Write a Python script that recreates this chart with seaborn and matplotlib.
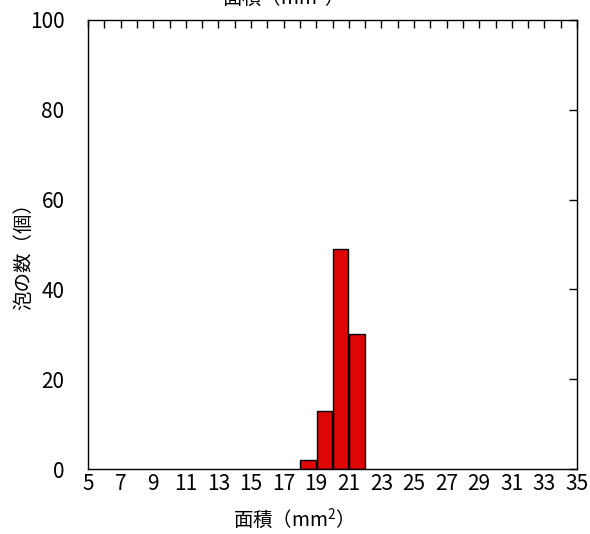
import numpy as np
import pandas as pd
import matplotlib
matplotlib.use("Agg")
import matplotlib.pyplot as plt
import seaborn as sns

# data
bin_left = [18, 19, 20, 21]
counts = [2, 13, 49, 30]
bin_edges = [18, 19, 20, 21, 22]
x_ticks = list(range(5, 36, 2))
y_ticks = [0, 20, 40, 60, 80, 100]
title = "面積（mm$^2$）"
xlabel = "面積（mm$^2$）"
ylabel = "泡の数（個）"

sns.set_style("white")
plt.rcParams['font.family'] = ['Noto Sans CJK JP', 'DejaVu Sans']
plt.rcParams['text.color'] = 'black'
plt.rcParams['axes.labelcolor'] = 'black'
plt.rcParams['mathtext.fontset'] = 'custom'
plt.rcParams['mathtext.rm'] = 'Noto Sans CJK JP'

fig = plt.figure(figsize=(5.9, 5.34), dpi=100)
ax = fig.add_axes([88/590, 1-469/534, (577-88)/590, (469-20)/534])

df = pd.DataFrame({"x": bin_left, "w": counts})
sns.histplot(data=df, x="x", weights="w", bins=bin_edges, ax=ax,
             color="#dd0505", alpha=1, edgecolor="black", linewidth=1.0, shrink=0.93)

ax.set_xlim(5, 35)
ax.set_ylim(0, 100)
ax.set_xticks(x_ticks)
ax.set_xticklabels([str(t) for t in x_ticks])
ax.set_xticks(range(5, 36), minor=True)
ax.set_yticks(y_ticks)
ax.set_yticklabels([str(t) for t in y_ticks])
ax.tick_params(axis='both', which='both', direction='in', length=6, width=1,
               top=True, right=True, colors='black', labelcolor='black', labelsize=15)
ax.tick_params(axis='x', pad=3)
ax.tick_params(axis='y', pad=17)
for s in ax.spines.values():
    s.set_color('black')
    s.set_linewidth(1)

ax.set_xlabel(xlabel, fontsize=14, color='black')
ax.xaxis.set_label_coords((288-88)/489, -(507-469)/449)
ax.set_ylabel(ylabel, fontsize=14, color='black')
ax.yaxis.set_label_coords(-(88-34)/489, (469-252)/449)
fig.text(277/590, 1.004, title, fontsize=14, ha='center', va='center', color='black')

fig.savefig("out.png", dpi=100)
